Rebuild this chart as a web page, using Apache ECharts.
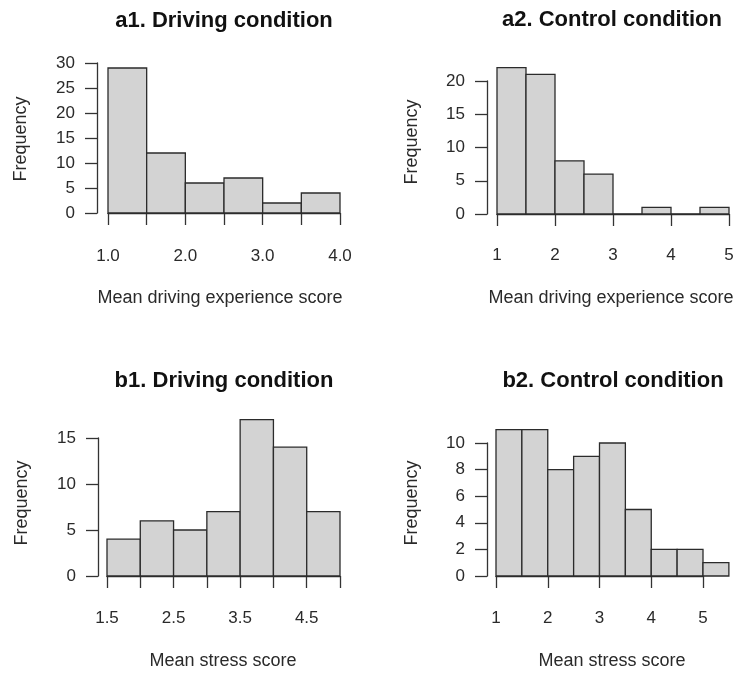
<!DOCTYPE html>
<html>
<head>
<meta charset="utf-8">
<script src="https://cdn.jsdelivr.net/npm/echarts@6/dist/echarts.min.js"></script>
<style>html,body{margin:0;padding:0;background:#fff}#c{width:740px;height:673px}</style>
</head>
<body>
<div id="c"></div>
<script>
// ---- data ----
const a1Edges = [1.0, 1.5, 2.0, 2.5, 3.0, 3.5, 4.0];
const a1Counts = [29, 12, 6, 7, 2, 4];
const a1XLabels = ['1.0', '2.0', '3.0', '4.0'];
const a1YTicks = [0, 5, 10, 15, 20, 25, 30];

const a2Edges = [1, 1.5, 2, 2.5, 3, 3.5, 4, 4.5, 5];
const a2Counts = [22, 21, 8, 6, 0, 1, 0, 1];
const a2XLabels = ['1', '2', '3', '4', '5'];
const a2YTicks = [0, 5, 10, 15, 20];

const b1Edges = [1.5, 2.0, 2.5, 3.0, 3.5, 4.0, 4.5, 5.0];
const b1Counts = [4, 6, 5, 7, 17, 14, 7];
const b1XLabels = ['1.5', '2.5', '3.5', '4.5'];
const b1YTicks = [0, 5, 10, 15];

const b2Edges = [1, 1.5, 2, 2.5, 3, 3.5, 4, 4.5, 5, 5.5];
const b2Counts = [11, 11, 8, 9, 10, 5, 2, 2, 1];
const b2XLabels = ['1', '2', '3', '4', '5'];
const b2YTicks = [0, 2, 4, 6, 8, 10];

const titles = ['a1. Driving condition', 'a2. Control condition', 'b1. Driving condition', 'b2. Control condition'];
const xTitles = ['Mean driving experience score', 'Mean driving experience score', 'Mean stress score', 'Mean stress score'];
const yTitle = 'Frequency';

// ---- layout ----
const FONT = '"Liberation Sans", Arial, Helvetica, sans-serif';
const TXT = '#2a2a2a';
const panels = [
  {edges: a1Edges, counts: a1Counts, xl: a1XLabels, yt: a1YTicks, xInt: 0.5, xMin: 1.0, xMax: 4.0,
   grid: {left: 108, top: 63, width: 232, height: 150}, yOff: 11, xOff: 7,
   title: [224, 21], xt: [220, 298], yt2: [21, 139]},
  {edges: a2Edges, counts: a2Counts, xl: a2XLabels, yt: a2YTicks, xInt: 1, xMin: 1, xMax: 5,
   grid: {left: 497, top: 81, width: 232, height: 133}, yOff: 10, xOff: 5,
   title: [612, 20], xt: [611, 298], yt2: [412, 142]},
  {edges: b1Edges, counts: b1Counts, xl: b1XLabels, yt: b1YTicks, xInt: 0.5, xMin: 1.5, xMax: 5.0,
   grid: {left: 107, top: 438, width: 233, height: 138}, yOff: 9, xOff: 6,
   title: [224, 381], xt: [223, 661], yt2: [22, 503]},
  {edges: b2Edges, counts: b2Counts, xl: b2XLabels, yt: b2YTicks, xInt: 1, xMin: 1, xMax: 5,
   grid: {left: 496, top: 443, width: 207, height: 133}, yOff: 9, xOff: 6,
   title: [613, 381], xt: [612, 661], yt2: [412, 503]}
];

function renderItem(params, api) {
  const p0 = api.coord([api.value(0), 0]);
  const p1 = api.coord([api.value(1), api.value(2)]);
  return {
    type: 'rect',
    shape: {x: p0[0], y: p1[1], width: p1[0] - p0[0], height: p0[1] - p1[1]},
    style: {fill: '#d3d3d3', stroke: '#2b2b2b', lineWidth: 1.3}
  };
}

const grids = [], xAxes = [], yAxes = [], series = [], graphics = [];
panels.forEach((p, i) => {
  grids.push(Object.assign({containLabel: false}, p.grid));
  xAxes.push({
    type: 'value', gridIndex: i, min: p.xMin, max: p.xMax, interval: p.xInt, offset: p.xOff,
    splitLine: {show: false},
    axisLine: {show: true, lineStyle: {color: '#333', width: 1.3}},
    axisTick: {show: true, length: 12, lineStyle: {color: '#333', width: 1.3}},
    axisLabel: {
      show: true, margin: 28, color: TXT, fontSize: 17, fontFamily: FONT, hideOverlap: false,
      showMinLabel: true, showMaxLabel: true,
      formatter: (v) => {
        const hit = p.xl.find(s => Math.abs(parseFloat(s) - v) < 1e-6);
        return hit === undefined ? '' : hit;
      }
    }
  });
  const ymax = p.yt[p.yt.length - 1];
  yAxes.push({
    type: 'value', gridIndex: i, min: 0, max: ymax, interval: p.yt[1] - p.yt[0], offset: p.yOff,
    splitLine: {show: false},
    axisLine: {show: true, lineStyle: {color: '#333', width: 1.3}},
    axisTick: {show: true, length: 12, lineStyle: {color: '#333', width: 1.3}},
    axisLabel: {show: true, margin: 22, color: TXT, fontSize: 17, fontFamily: FONT, showMinLabel: true, showMaxLabel: true}
  });
  const data = p.counts.map((c, k) => [p.edges[k], p.edges[k + 1], c]);
  series.push({
    type: 'custom', xAxisIndex: i, yAxisIndex: i, clip: false, silent: true,
    renderItem: renderItem, encode: {x: [0, 1], y: 2}, data: data, z: 1
  });
  graphics.push({type: 'text', x: p.title[0], y: p.title[1],
    style: {text: titles[i], align: 'center', verticalAlign: 'middle', fill: '#111', font: 'bold 22px ' + FONT}});
  graphics.push({type: 'text', x: p.xt[0], y: p.xt[1],
    style: {text: xTitles[i], align: 'center', verticalAlign: 'middle', fill: TXT, font: '18px ' + FONT}});
  graphics.push({type: 'text', x: p.yt2[0], y: p.yt2[1], rotation: Math.PI / 2,
    style: {text: yTitle, align: 'center', verticalAlign: 'middle', fill: TXT, font: '18px ' + FONT}});
});

const chart = echarts.init(document.getElementById('c'), null, {renderer: 'canvas'});
chart.setOption({
  animation: false,
  backgroundColor: '#fff',
  grid: grids, xAxis: xAxes, yAxis: yAxes, series: series,
  graphic: graphics
});
</script>
</body>
</html>
